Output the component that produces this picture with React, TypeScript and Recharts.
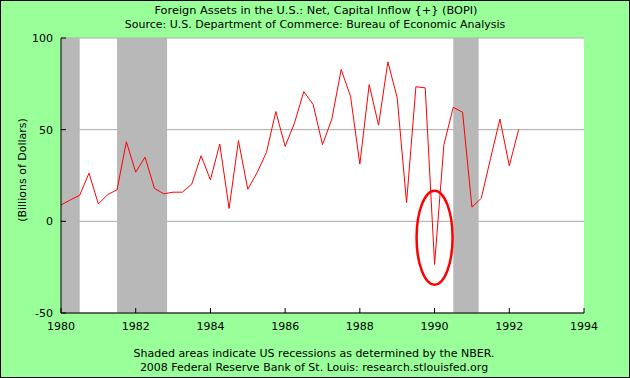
import { LineChart, Line, XAxis, YAxis, CartesianGrid, ReferenceArea, ReferenceDot } from "recharts";

// quarterly observations, 1980Q1 .. 1992Q2
const quarters = [
  1980.0, 1980.25, 1980.5, 1980.75, 1981.0, 1981.25, 1981.5, 1981.75,
  1982.0, 1982.25, 1982.5, 1982.75, 1983.0, 1983.25, 1983.5, 1983.75,
  1984.0, 1984.25, 1984.5, 1984.75, 1985.0, 1985.25, 1985.5, 1985.75,
  1986.0, 1986.25, 1986.5, 1986.75, 1987.0, 1987.25, 1987.5, 1987.75,
  1988.0, 1988.25, 1988.5, 1988.75, 1989.0, 1989.25, 1989.5, 1989.75,
  1990.0, 1990.25, 1990.5, 1990.75, 1991.0, 1991.25, 1991.5, 1991.75,
  1992.0, 1992.25,
];

// billions of dollars
const inflow = [
  8.9, 11.7, 14.2, 26.3, 9.5, 14.6, 17.2, 43.4,
  26.8, 35.0, 18.0, 15.0, 15.9, 15.9, 20.3, 35.8,
  22.6, 42.2, 7.0, 44.0, 17.5, 26.6, 37.6, 59.9,
  40.9, 53.6, 70.8, 63.7, 41.8, 55.8, 82.8, 68.2,
  31.2, 74.6, 52.4, 87.0, 67.3, 10.2, 73.4, 72.8,
  -23.5, 41.8, 62.2, 59.5, 7.7, 12.6, 34.4, 55.8,
  30.3, 50.0,
];

const recessions = [
  [1980.0, 1980.5],
  [1981.5, 1982.84],
  [1990.5, 1991.18],
];

const xTicks = [1980, 1982, 1984, 1986, 1988, 1990, 1992, 1994];
const yTicks = [-50, 0, 50, 100];

// circled point
const circled = { t: 1990.0, v: -8.9 };

const data = quarters.map((t, i) => ({ t, v: inflow[i] }));

const font = "'DejaVu Sans', Verdana, sans-serif";

// ticks point into the plot
function XTick(props: any) {
  const { x, y, payload } = props;
  return (
    <g>
      <line x1={x} x2={x} y1={y} y2={y - 5} stroke="#000" />
      <text x={x} y={y + 17} textAnchor="middle" fontSize={11} fontFamily={font} fill="#000">
        {payload.value}
      </text>
    </g>
  );
}

function YTick(props: any) {
  const { x, y, payload } = props;
  return (
    <g>
      <line x1={x} x2={x + 5} y1={y} y2={y} stroke="#000" />
      <text x={x - 8} y={y} dy={4} textAnchor="end" fontSize={11} fontFamily={font} fill="#000">
        {payload.value}
      </text>
    </g>
  );
}

export default function App() {
  return (
    <div style={{ position: "absolute", left: 0, top: 0, width: 630, height: 378, background: "#99ff99", boxSizing: "border-box", border: "1px solid #000" }}>
      <div style={{ position: "absolute", left: -1, top: -1 }}>
        <LineChart width={630} height={378} data={data} margin={{ top: 38, right: 46, bottom: 0, left: 0 }}>
          <CartesianGrid vertical={false} stroke="#aaaaaa" fill="#ffffff" />
          {recessions.map(([a, b], i) => (
            <ReferenceArea key={i} x1={a} x2={b} y1={-50} y2={100} fill="#b8b8b8" fillOpacity={1} stroke="none" />
          ))}
          <XAxis
            dataKey="t"
            type="number"
            domain={[1980, 1994]}
            ticks={xTicks}
            height={65}
            stroke="#000"
            tickLine={false}
            tickSize={0}
            tickMargin={0}
            tick={<XTick />}
            interval={0}
          />
          <YAxis
            type="number"
            domain={[-50, 100]}
            ticks={yTicks}
            width={61}
            stroke="#000"
            tickLine={false}
            tickSize={0}
            tickMargin={0}
            tick={<YTick />}
            interval={0}
          />
          <Line dataKey="v" stroke="#ff0000" strokeWidth={1} dot={false} isAnimationActive={false} />
          <ReferenceDot
            x={circled.t}
            y={circled.v}
            shape={(p: any) => (
              <ellipse cx={p.cx} cy={p.cy} rx={18} ry={47} fill="none" stroke="#ff0000" strokeWidth={2.5} />
            )}
          />
        </LineChart>
      </div>
      <svg width={630} height={378} style={{ position: "absolute", left: -1, top: -1, pointerEvents: "none" }} fontFamily={font} fontSize={11} fill="#000">
        <text x={316} y={14} textAnchor="middle" textLength={323} lengthAdjust="spacingAndGlyphs">
          Foreign Assets in the U.S.: Net, Capital Inflow {"{+}"} (BOPI)
        </text>
        <text x={315} y={28} textAnchor="middle">Source: U.S. Department of Commerce: Bureau of Economic Analysis</text>
        <text x={314} y={357} textAnchor="middle">Shaded areas indicate US recessions as determined by the NBER.</text>
        <text x={314} y={371} textAnchor="middle">2008 Federal Reserve Bank of St. Louis: research.stlouisfed.org</text>
        <text x={26} y={170} textAnchor="middle" transform="rotate(-90 26 170)">(Billions of Dollars)</text>
      </svg>
    </div>
  );
}
